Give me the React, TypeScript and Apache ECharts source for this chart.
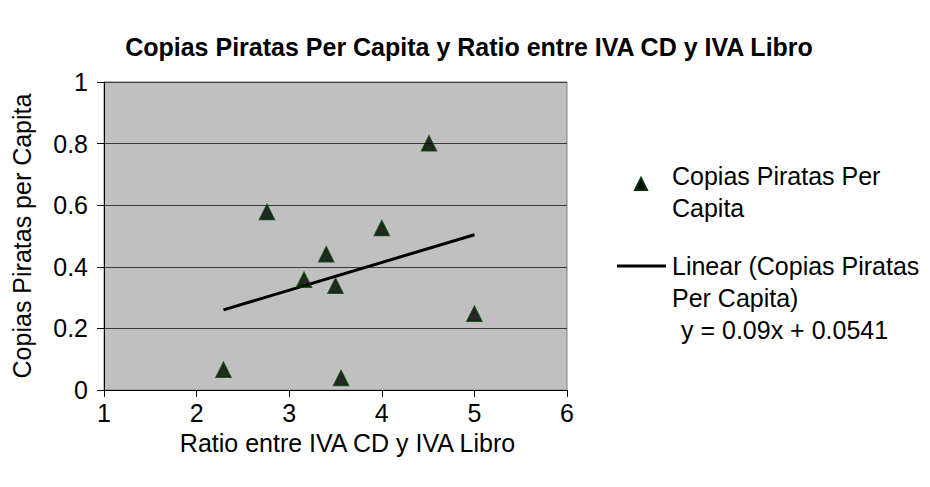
import React, { useEffect, useRef } from "react";
import * as echarts from "echarts";

const titleText = "Copias Piratas Per Capita y Ratio entre IVA CD y IVA Libro";
const xAxisName = "Ratio entre IVA CD y IVA Libro";
const yAxisName = "Copias Piratas per Capita";
const seriesName = "Copias Piratas Per Capita";
const trendName = "Linear (Copias Piratas Per Capita)";
const equationText = "y = 0.09x + 0.0541";

const ratioValues = [2.29, 2.76, 3.16, 3.4, 3.5, 3.56, 4.0, 4.51, 5.0];
const piratedValues = [0.065, 0.577, 0.357, 0.44, 0.338, 0.038, 0.525, 0.8, 0.247];
const trendSlope = 0.09;
const trendIntercept = 0.0541;
const trendRange = [2.29, 5.0];

const FONT = "Liberation Sans, Arial, sans-serif";
const FS = 25;

export default function App() {
  const ref = useRef<HTMLDivElement>(null);
  useEffect(() => {
    if (!ref.current) return;
    const chart = echarts.init(ref.current, null, { renderer: "svg" });
    const points = ratioValues.map((x, i) => [x, piratedValues[i]]);
    const trend = trendRange.map((x) => [x, trendSlope * x + trendIntercept]);
    const legendFont = FS + "px " + FONT;
    chart.setOption({
      animation: false,
      backgroundColor: "#ffffff",
      textStyle: { fontFamily: FONT },
      title: {
        text: titleText,
        left: 464,
        textAlign: "center",
        top: 29,
        textStyle: { fontFamily: FONT, fontWeight: "bold", fontSize: 25, color: "#000" },
      },
      grid: { left: 104, right: 363, top: 82, bottom: 97, containLabel: false, show: true, backgroundColor: "#c0c0c0", borderColor: "#808080", borderWidth: 1 },
      xAxis: {
        type: "value",
        min: 1,
        max: 6,
        interval: 1,
        name: xAxisName,
        nameLocation: "middle",
        nameGap: 40,
        nameTextStyle: { fontFamily: FONT, fontSize: FS, color: "#000", padding: [0, 0, 0, 24] },
        axisLine: { show: true, onZero: false, lineStyle: { color: "#000", width: 1 } },
        axisTick: { show: true, length: 7, lineStyle: { color: "#000" } },
        axisLabel: { fontFamily: FONT, fontSize: FS, color: "#000", margin: 10 },
        splitLine: { show: false },
      },
      yAxis: {
        type: "value",
        min: 0,
        max: 1,
        interval: 0.2,
        name: yAxisName,
        nameLocation: "middle",
        nameGap: 70,
        nameTextStyle: { fontFamily: FONT, fontSize: FS, color: "#000" },
        axisLine: { show: true, lineStyle: { color: "#000", width: 1 } },
        axisTick: { show: true, length: 7, lineStyle: { color: "#000" } },
        axisLabel: { fontFamily: FONT, fontSize: FS, color: "#000", margin: 16 },
        splitLine: { show: true, lineStyle: { color: "#3a3a3a", width: 1 } },
      },
      series: [
        {
          name: trendName,
          type: "line",
          data: trend,
          symbol: "none",
          lineStyle: { color: "#000", width: 3 },
          z: 2,
        },
        {
          name: seriesName,
          type: "scatter",
          data: points,
          symbol: "triangle",
          symbolSize: 14,
          itemStyle: { color: "#000", borderColor: "#003300", borderWidth: 2 },
          z: 3,
        },
      ],
      graphic: [
        { type: "polygon", shape: { points: [[641, 178], [647, 190], [635, 190]] }, style: { fill: "#000", stroke: "#003300", lineWidth: 2 } },
        { type: "text", x: 672, y: 176, style: { text: "Copias Piratas Per", font: legendFont, fill: "#000", verticalAlign: "middle" } },
        { type: "text", x: 672, y: 208, style: { text: "Capita", font: legendFont, fill: "#000", verticalAlign: "middle" } },
        { type: "line", shape: { x1: 617, y1: 266, x2: 666, y2: 266 }, style: { stroke: "#000", lineWidth: 3 } },
        { type: "text", x: 672, y: 266, style: { text: "Linear (Copias Piratas", font: legendFont, fill: "#000", verticalAlign: "middle" } },
        { type: "text", x: 672, y: 298, style: { text: "Per Capita)", font: legendFont, fill: "#000", verticalAlign: "middle" } },
        { type: "text", x: 681, y: 330, style: { text: equationText, font: legendFont, fill: "#000", verticalAlign: "middle" } },
      ],
    });
    return () => chart.dispose();
  }, []);
  return <div ref={ref} style={{ width: 930, height: 487, margin: -8 }} />;
}
